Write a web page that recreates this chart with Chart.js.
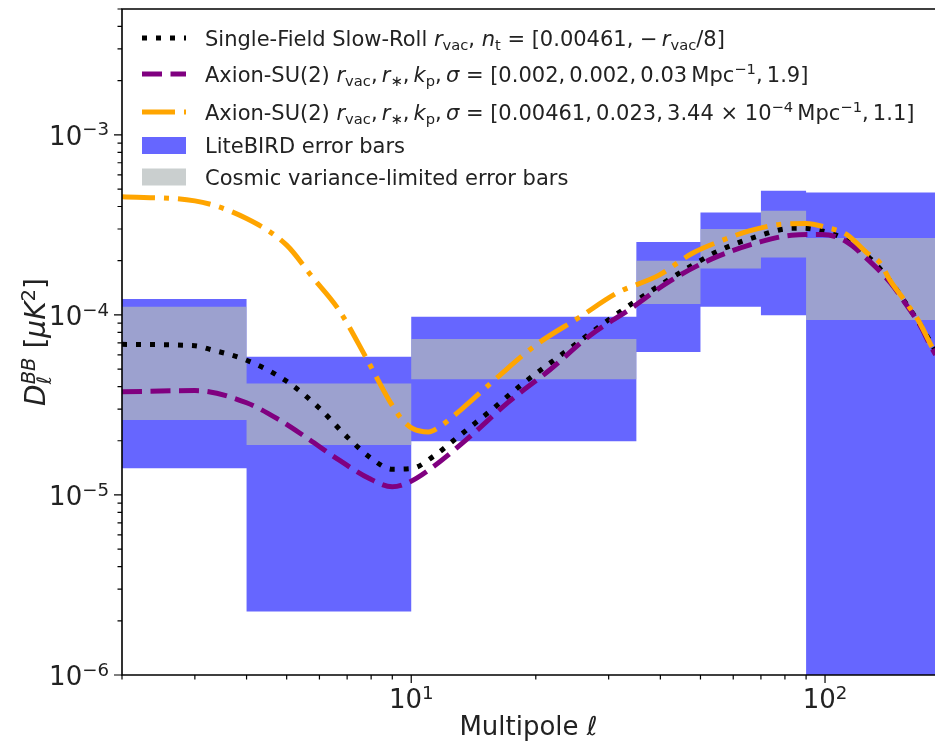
<!DOCTYPE html>
<html>
<head>
<meta charset="utf-8">
<script src="https://cdn.jsdelivr.net/npm/chart.js@4.4.0/dist/chart.umd.min.js"></script>
<style>
  html, body { margin: 0; padding: 0; background: #fff; }
</style>
</head>
<body>
<canvas id="bbChart" width="935" height="744"></canvas>
<script>
// multipole bins of the error boxes (edges) and their ranges
const binEdges = [2, 4, 10, 35, 50, 70, 90, 300];
const liteTop = [1.224e-4, 5.85e-5, 9.76e-5, 2.54e-4, 3.71e-4, 4.89e-4, 4.79e-4];
const liteBottom = [1.405e-5, 2.25e-6, 1.99e-5, 6.22e-5, 1.109e-4, 9.94e-5, 1e-8];
const cvTop = [1.109e-4, 4.165e-5, 7.34e-5, 2.0e-4, 3.0e-4, 3.785e-4, 2.67e-4];
const cvBottom = [2.605e-5, 1.893e-5, 4.385e-5, 1.148e-4, 1.813e-4, 2.086e-4, 9.36e-5];

// single-field slow-roll
const ellSR = [2, 3, 3.25, 4, 5, 6, 7, 8, 9, 10, 11.4, 12.9, 14.5, 15.5, 18.5, 24, 30.7, 37.5, 45.7, 55.8, 70, 81.7, 88.5, 96, 104, 113, 126, 143.5, 158, 170, 185];
const dSR = [6.86e-5, 6.74e-5, 6.45e-5, 5.6e-5, 4.28e-5, 3.03e-5, 2.1e-5, 1.6e-5, 1.39e-5, 1.40e-5, 1.66e-5, 2.08e-5, 2.58e-5, 2.92e-5, 4.11e-5, 6.43e-5, 9.76e-5, 1.333e-4, 1.774e-4, 2.29e-4, 2.77e-4, 3.02e-4, 3.03e-4, 2.96e-4, 2.83e-4, 2.58e-4, 2.15e-4, 1.55e-4, 1.13e-4, 8.8e-5, 6.3e-5];

// axion-SU(2), first parameter set
const ellAx1 = [2, 3, 4, 4.8, 5.55, 6.7, 7.9, 9, 9.9, 11.3, 13.7, 17.2, 21.6, 27.1, 34, 41.9, 53.6, 70, 83, 98.5, 112.7, 126, 143.5, 157.6, 169.7, 179.4, 185];
const dAx1 = [3.74e-5, 3.80e-5, 3.25e-5, 2.61e-5, 2.10e-5, 1.56e-5, 1.237e-5, 1.11e-5, 1.18e-5, 1.435e-5, 2.06e-5, 3.29e-5, 4.94e-5, 7.72e-5, 1.087e-4, 1.527e-4, 2.06e-4, 2.55e-4, 2.77e-4, 2.8e-4, 2.55e-4, 2.06e-4, 1.52e-4, 1.13e-4, 8.75e-5, 6.8e-5, 6.0e-5];

// axion-SU(2), second parameter set
const ellAx2 = [2, 3, 4, 5, 5.76, 6.69, 7.76, 8.84, 9.52, 10.1, 11, 11.7, 13.2, 16.2, 20, 25.6, 31.5, 39.7, 47.8, 56.6, 65.6, 77.6, 90, 100.8, 112.7, 126, 136.2, 143.5, 157.6, 169.7, 179.4, 185];
const dAx2 = [4.53e-4, 4.30e-4, 3.43e-4, 2.44e-4, 1.63e-4, 1.064e-4, 5.85e-5, 3.36e-5, 2.61e-5, 2.33e-5, 2.24e-5, 2.39e-5, 2.98e-5, 4.53e-5, 6.8e-5, 9.76e-5, 1.327e-4, 1.663e-4, 2.2e-4, 2.6e-4, 2.93e-4, 3.18e-4, 3.22e-4, 3.06e-4, 2.8e-4, 2.22e-4, 1.93e-4, 1.56e-4, 1.158e-4, 8.97e-5, 6.95e-5, 6.1e-5];

// tick labels: base and exponent
const xTickValues = [10, 100];
const xTickLabels = [['10', '1'], ['10', '2']];
const yTickValues = [1e-6, 1e-5, 1e-4, 1e-3];
const yTickLabels = [['10', '−6'], ['10', '−5'], ['10', '−4'], ['10', '−3']];

const FONT = '"DejaVu Sans", sans-serif';
const TEXT = '#222';
const BLUE = 'rgba(0, 0, 255, 0.6)';
const GRAY = 'rgba(180, 186, 186, 0.7)';
const TICK_SIZE = 26;

const pts = (xs, ys) => xs.map((x, i) => ({x, y: ys[i]}));
const boxes = vals => {
  const out = [];
  vals.forEach((v, i) => {
    out.push({x: binEdges[i], y: v});
    out.push({x: binEdges[i + 1], y: v});
  });
  return out;
};

// 1..9 per decade, majors flagged
const logTicks = (lo, hi, majors) => {
  const t = [];
  for (let e = -7; e <= 3; e++) {
    for (let m = 1; m <= 9; m++) {
      const v = +(m * Math.pow(10, e)).toPrecision(6);
      if (v >= lo && v <= hi) t.push({value: v, major: majors.includes(v)});
    }
  }
  return t;
};

// text with sub/superscripts
function rich(ctx, items, x, y, size, dry) {
  let cx = x;
  for (const it of items) {
    const small = it.sub || it.sup;
    const fs = small ? size * 0.7 : size;
    ctx.font = (it.i ? 'italic ' : '') + fs + 'px ' + FONT;
    const w = ctx.measureText(it.t).width;
    const dy = it.sub ? size * 0.2 : it.sup ? -size * 0.36 : 0;
    if (!dry) ctx.fillText(it.t, cx, y + dy);
    if (!it.hold) cx += w;
  }
  return cx - x;
}

const TS = '\u2009';
const rvac = [{t: 'r', i: true}, {t: 'vac', sub: true}];
const axionHead = [{t: 'Axion-SU(2) '}, ...rvac, {t: ',' + TS}, {t: 'r', i: true}, {t: '∗', sub: true},
  {t: ',' + TS}, {t: 'k', i: true}, {t: 'p', sub: true}, {t: ',' + TS}, {t: 'σ', i: true}];
const legendRows = [
  {y: 38, kind: 'line', color: '#000', dash: [5, 9],
    text: [{t: 'Single-Field Slow-Roll '}, ...rvac, {t: ', '}, {t: 'n', i: true}, {t: 't', sub: true},
      {t: ' = [0.00461, −' + TS}, ...rvac, {t: '/8]'}]},
  {y: 74, kind: 'line', color: '#800080', dash: [20, 8.5],
    text: [...axionHead, {t: ' = [0.002,' + TS + '0.002,' + TS + '0.03' + TS + 'Mpc'}, {t: '−1', sup: true},
      {t: ',' + TS + '1.9]'}]},
  {y: 112, kind: 'line', color: '#FFA500', dash: [33, 9, 5, 9],
    text: [...axionHead, {t: ' = [0.00461,' + TS + '0.023,' + TS + '3.44 × 10'}, {t: '−4', sup: true},
      {t: TS + 'Mpc'}, {t: '−1', sup: true}, {t: ',' + TS + '1.1]'}]},
  {y: 145.5, kind: 'box', color: BLUE, text: [{t: 'LiteBIRD error bars'}]},
  {y: 177, kind: 'box', color: GRAY, text: [{t: 'Cosmic variance-limited error bars'}]}
];

const yTitle = [{t: 'D', i: true}, {t: 'ℓ', sub: true, i: true, hold: true}, {t: 'BB', sup: true, i: true},
  {t: ' ['}, {t: 'μK', i: true}, {t: '2', sup: true}, {t: ']'}];

const labelFor = (values, labels, v) => {
  const i = values.findIndex(t => Math.abs(t - v) / t < 1e-6);
  return i >= 0 ? [{t: labels[i][0]}, {t: labels[i][1], sup: true}] : null;
};

const decorations = {
  id: 'decorations',
  afterDatasetsDraw(chart) {
    const {ctx, chartArea: a, scales} = chart;
    ctx.save();
    ctx.strokeStyle = '#000';
    ctx.lineWidth = 1.6;
    ctx.beginPath();
    ctx.moveTo(a.right, a.top);
    ctx.lineTo(a.left, a.top);
    ctx.lineTo(a.left, a.bottom);
    ctx.lineTo(a.right, a.bottom);
    ctx.stroke();
    ctx.lineWidth = 1.2;
    ctx.beginPath();
    scales.x.ticks.forEach(t => {
      const px = scales.x.getPixelForValue(t.value);
      ctx.moveTo(px, a.bottom);
      ctx.lineTo(px, a.bottom + (t.major ? 8 : 4.5));
    });
    scales.y.ticks.forEach(t => {
      const py = scales.y.getPixelForValue(t.value);
      ctx.moveTo(a.left, py);
      ctx.lineTo(a.left - (t.major ? 8 : 4.5), py);
    });
    ctx.stroke();
    ctx.restore();
  },
  afterDraw(chart) {
    const {ctx, chartArea: a, scales} = chart;
    ctx.save();
    ctx.fillStyle = TEXT;
    ctx.textBaseline = 'alphabetic';
    // tick labels
    scales.x.ticks.forEach(t => {
      const lab = labelFor(xTickValues, xTickLabels, t.value);
      if (!lab) return;
      const px = scales.x.getPixelForValue(t.value);
      const w = rich(ctx, lab, 0, 0, TICK_SIZE, true);
      rich(ctx, lab, px - w / 2, a.bottom + 33, TICK_SIZE);
    });
    scales.y.ticks.forEach(t => {
      const lab = labelFor(yTickValues, yTickLabels, t.value);
      if (!lab) return;
      const py = scales.y.getPixelForValue(t.value);
      const w = rich(ctx, lab, 0, 0, TICK_SIZE, true);
      rich(ctx, lab, a.left - 13 - w, py + 10, TICK_SIZE);
    });
    // legend
    legendRows.forEach(r => {
      if (r.kind === 'line') {
        ctx.save();
        ctx.strokeStyle = r.color;
        ctx.lineWidth = 5;
        ctx.setLineDash(r.dash);
        ctx.beginPath();
        ctx.moveTo(142, r.y);
        ctx.lineTo(186, r.y);
        ctx.stroke();
        ctx.restore();
      } else {
        ctx.fillStyle = r.color;
        ctx.fillRect(142, r.y - 8.5, 44, 17);
        ctx.fillStyle = TEXT;
      }
      rich(ctx, r.text, 205, r.y + 7.5, 21);
    });
    // y axis title, rotated
    const size = 28;
    const w = rich(ctx, yTitle, 0, 0, size, true);
    ctx.translate(45, (a.top + a.bottom) / 2);
    ctx.rotate(-Math.PI / 2);
    rich(ctx, yTitle, -w / 2, 0, size);
    ctx.restore();
  }
};

const lineStyle = (color, dash) => ({
  borderColor: color, borderWidth: 5, borderDash: dash, borderCapStyle: 'butt',
  pointRadius: 0, showLine: true, fill: false, cubicInterpolationMode: 'monotone'
});
const bandStyle = (color, fill) => ({
  borderColor: 'rgba(0,0,0,0)', borderWidth: 0, pointRadius: 0, showLine: true,
  backgroundColor: color, fill: fill, tension: 0
});
const noPad = axis => {
  axis.paddingTop = 0; axis.paddingBottom = 0;
  axis.paddingLeft = 0; axis.paddingRight = 0;
};

new Chart(document.getElementById('bbChart').getContext('2d'), {
  type: 'scatter',
  data: {
    datasets: [
      {label: 'Axion-SU(2) set 2', data: pts(ellAx2, dAx2), ...lineStyle('#FFA500', [33, 9, 5, 9])},
      {label: 'Axion-SU(2) set 1', data: pts(ellAx1, dAx1), ...lineStyle('#800080', [20, 8.5])},
      {label: 'Single-Field Slow-Roll', data: pts(ellSR, dSR), ...lineStyle('#000000', [5, 9])},
      {label: 'CV top', data: boxes(cvTop), ...bandStyle(GRAY, 4)},
      {label: 'CV bottom', data: boxes(cvBottom), ...bandStyle(GRAY, false)},
      {label: 'LiteBIRD top', data: boxes(liteTop), ...bandStyle(BLUE, 6)},
      {label: 'LiteBIRD bottom', data: boxes(liteBottom), ...bandStyle(BLUE, false)}
    ]
  },
  options: {
    responsive: false,
    animation: false,
    events: [],
    layout: {padding: {top: 9, right: 0, left: 0, bottom: 0}},
    plugins: {legend: {display: false}, tooltip: {enabled: false}},
    scales: {
      x: {
        type: 'logarithmic', min: 2, max: 184.4,
        afterBuildTicks: axis => { axis.ticks = logTicks(2, 184.4, xTickValues); },
        afterFit: axis => { axis.height = 69; noPad(axis); },
        grid: {display: false, drawTicks: false},
        border: {display: false},
        ticks: {display: false, autoSkip: false},
        title: {display: true, text: 'Multipole ℓ', color: TEXT,
          font: {family: 'DejaVu Sans', size: 26}, padding: {top: 0, bottom: 0}}
      },
      y: {
        type: 'logarithmic', min: 1e-6, max: 5e-3,
        afterBuildTicks: axis => { axis.ticks = logTicks(1e-6, 5e-3, yTickValues); },
        afterFit: axis => { axis.width = 122; noPad(axis); },
        grid: {display: false, drawTicks: false},
        border: {display: false},
        ticks: {display: false, autoSkip: false}
      }
    }
  },
  plugins: [decorations]
});
</script>
</body>
</html>
